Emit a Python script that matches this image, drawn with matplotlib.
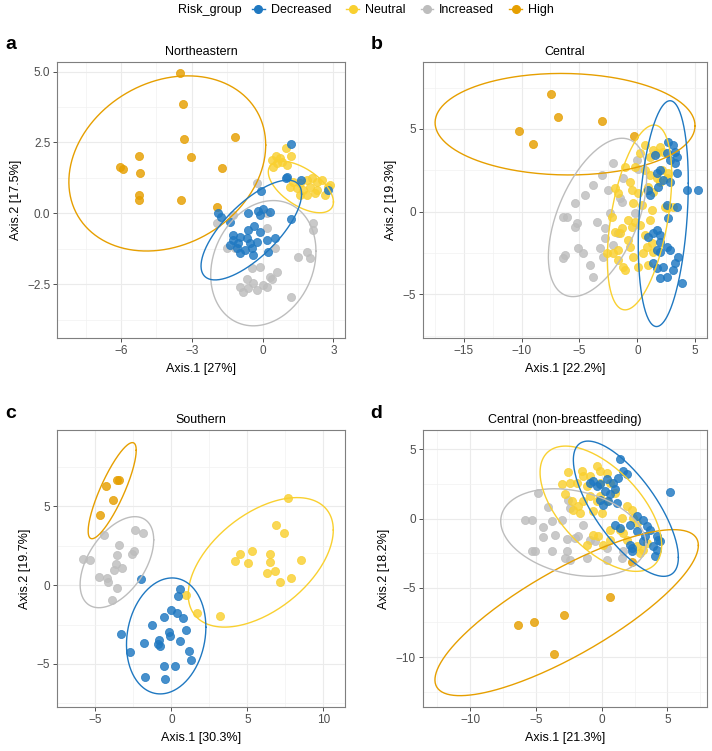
import numpy as np
import matplotlib
matplotlib.use('Agg')
import matplotlib.pyplot as plt
from matplotlib.lines import Line2D

plt.rcParams['font.family'] = ['Liberation Sans', 'DejaVu Sans']

GROUPS = ['Decreased', 'Neutral', 'Increased', 'High']
COLORS = {'Decreased': '#1F78C1', 'Neutral': '#F9D030',
          'Increased': '#BDBDBD', 'High': '#E69F00'}
DRAW_ORDER = ['High', 'Increased', 'Neutral', 'Decreased']

# ---- panel a: Northeastern ----
a_high = [(-3.50, 4.94), (-3.39, 3.84), (-3.33, 2.63), (-3.05, 1.97), (-1.17, 2.68),
          (-1.74, 1.60), (-5.25, 2.02), (-6.05, 1.65), (-5.90, 1.58), (-5.20, 1.41),
          (-5.25, 0.66), (-5.22, 0.47), (-3.46, 0.47), (-1.95, 0.24)]
a_neutral = [(0.97, 2.29), (0.55, 2.02), (0.73, 1.94), (0.38, 1.88), (0.59, 1.76),
             (0.81, 1.82), (0.45, 1.65), (1.19, 2.02), (1.05, 1.70), (1.30, 1.12),
             (1.58, 1.06), (1.86, 1.18), (2.08, 1.23), (2.29, 1.12), (2.50, 1.18),
             (1.44, 0.88), (1.72, 0.82), (2.01, 0.94), (2.29, 0.82), (2.64, 0.65),
             (1.86, 0.65), (2.78, 0.94), (2.85, 1.00), (1.58, 0.65), (1.16, 0.94),
             (2.22, 0.71)]
a_decreased = [(1.19, 2.45), (0.97, 1.23), (1.05, 1.29), (1.62, 1.18), (-0.07, 0.79),
               (2.78, 0.82), (-1.88, 0.00), (-1.78, -0.12), (-1.38, -0.29), (-0.61, 0.00),
               (-0.18, 0.09), (0.03, 0.14), (0.31, 0.06), (-0.11, -0.06), (-0.37, -0.45),
               (1.19, -0.19), (-1.24, -0.76), (-0.96, -0.82), (-0.68, -0.88), (-1.24, -0.94),
               (-1.03, -1.06), (-0.54, -1.06), (-0.25, -1.00), (-1.38, -1.12), (-1.10, -1.23),
               (-0.47, -1.23), (0.17, -0.94), (0.52, -0.88), (-0.96, -1.41), (-0.40, -1.47),
               (0.24, -1.35), (-0.75, -1.29), (-0.61, -0.59), (-0.11, -0.65)]
a_increased = [(-0.25, 1.06), (-1.95, -0.35), (-1.24, -0.06), (-1.17, -1.23), (-1.53, -1.23),
               (0.17, 0.00), (0.17, -0.53), (0.52, -1.23), (2.15, -0.33), (2.15, -0.59),
               (1.51, -1.53), (1.86, -1.35), (2.01, -1.59), (-0.47, -1.94), (-0.11, -1.88),
               (0.59, -2.06), (0.31, -2.23), (-0.68, -2.33), (-0.40, -2.47), (0.03, -2.53),
               (0.17, -2.59), (-0.96, -2.59), (-0.82, -2.76), (-0.25, -2.70), (1.20, -2.94),
               (0.38, -2.33), (-0.61, -2.64)]
# ellipse: centre x, centre y, half-range x, half-range y, correlation
a_ellipses = {'High': (-4.04, 1.76, 4.17, 3.09, 0.21),
              'Neutral': (1.62, 0.93, 1.38, 0.91, -0.58),
              'Decreased': (-0.48, -0.59, 2.13, 1.76, 0.72),
              'Increased': (0.03, -1.76, 2.23, 2.21, 0.19)}

# ---- panel b: Central ----
b_high = [(-7.48, 7.14), (-6.85, 5.75), (-3.08, 5.46), (-10.22, 4.88), (-9.04, 4.07),
          (-0.32, 4.58)]
b_neutral = [(0.66, 4.03), (1.38, 3.73), (1.96, 3.93), (1.67, 3.53), (2.24, 3.63),
             (0.23, 3.53), (1.09, 3.33), (-1.06, 2.72), (-0.20, 2.72), (0.66, 2.52),
             (1.09, 2.22), (1.67, 2.02), (2.10, 2.52), (2.53, 2.02), (-1.93, 1.41),
             (-0.63, 1.81), (-0.49, 1.31), (0.09, 1.11), (0.81, 1.31), (1.38, 1.21),
             (1.96, 1.81), (0.37, 0.40), (1.24, 0.10), (2.53, 0.20), (3.11, 0.30),
             (-0.35, 0.50), (-2.22, -0.30), (-0.78, -0.50), (-0.49, -0.91), (-0.20, -0.60),
             (-1.35, -1.01), (0.23, -0.81), (-1.93, -1.21), (-1.50, -1.31), (-0.78, -1.71),
             (0.66, -1.41), (1.24, -1.92), (-0.63, -2.12), (0.81, -2.12), (1.38, -2.42),
             (-2.07, -2.52), (-1.64, -2.92), (-1.21, -3.33), (-0.35, -2.72), (0.09, -3.33),
             (0.95, -3.23), (-1.64, -2.32), (2.39, 0.30), (2.68, 2.32), (1.09, -0.50),
             (0.52, -2.52), (-1.06, -3.53), (-2.65, -2.52), (0.95, 1.51), (-1.64, 1.11)]
b_decreased = [(2.68, 4.23), (3.11, 4.03), (3.25, 3.63), (2.53, 3.53), (3.40, 3.33),
               (2.82, 3.13), (3.25, 2.92), (1.96, 2.52), (1.67, 2.32), (3.40, 2.32),
               (2.24, 1.92), (2.82, 1.81), (1.81, 1.51), (0.95, 1.31), (4.26, 1.31),
               (5.27, 1.31), (1.09, 1.01), (2.53, 0.40), (3.40, 0.30), (2.68, -0.40),
               (1.67, -1.11), (1.38, -1.31), (1.96, -1.41), (2.53, -2.12), (2.82, -2.32),
               (3.54, -2.72), (1.96, -2.42), (1.67, -2.32), (3.25, -3.13), (2.24, -3.33),
               (3.11, -3.53), (1.96, -4.03), (2.53, -3.93), (3.83, -4.33), (0.95, -1.51),
               (1.96, -1.81), (1.38, -3.13), (1.67, -3.43), (1.53, 3.43)]
b_increased = [(-2.07, 2.92), (-0.06, 3.13), (0.09, 2.56), (-3.08, 2.22), (-1.21, 2.02),
               (-3.80, 1.61), (-4.52, 1.01), (-2.50, 1.31), (-1.50, 0.81), (-5.38, 0.50),
               (-6.39, -0.30), (-6.10, -0.30), (-5.24, -0.71), (-5.38, -0.91), (-3.51, -0.60),
               (-2.36, -0.10), (-2.79, -1.01), (-2.79, -1.61), (-3.22, -2.22), (-5.09, -2.22),
               (-4.66, -2.52), (-6.24, -2.62), (-6.39, -2.82), (-2.94, -2.72), (-4.09, -3.23),
               (-3.80, -3.93), (-2.07, -2.02), (-0.20, -0.10), (-1.64, -1.31), (-1.35, 0.60)]
b_ellipses = {'High': (-6.24, 5.29, 11.22, 3.07, -0.03),
              'Increased': (-3.44, -0.35, 4.24, 4.79, 0.50),
              'Neutral': (0.19, -0.35, 2.78, 5.59, 0.45),
              'Decreased': (2.24, -0.12, 2.16, 6.83, 0.27)}

# ---- panel c: Southern ----
c_high = [(-3.58, 6.65), (-3.45, 6.70), (-4.31, 6.32), (-3.83, 5.39), (-4.71, 4.46)]
c_increased = [(-4.40, 3.20), (-2.42, 3.49), (-1.89, 3.31), (-3.45, 2.53), (-5.83, 1.68),
               (-5.34, 1.60), (-3.58, 1.94), (-2.57, 1.98), (-2.46, 2.15), (-3.66, 1.35),
               (-3.24, 1.09), (-3.79, 0.99), (-4.78, 0.55), (-4.25, 0.46), (-4.14, 0.19),
               (-3.58, -0.17), (-3.93, -0.91)]
c_decreased = [(-1.98, 0.42), (0.55, -0.21), (0.42, -0.69), (-0.04, -1.60), (0.34, -1.75),
               (-0.46, -2.02), (0.76, -2.11), (-1.26, -2.53), (0.95, -2.84), (-3.30, -3.12),
               (-0.15, -2.95), (-0.08, -3.22), (0.59, -3.54), (-0.78, -3.49), (-0.88, -3.75),
               (-0.72, -3.85), (-1.83, -3.64), (1.18, -4.17), (-2.74, -4.27), (1.28, -4.74),
               (-0.46, -5.12), (0.27, -5.12), (-1.73, -5.81), (-0.42, -5.98)]
c_neutral = [(7.66, 5.52), (6.90, 3.83), (7.38, 3.31), (4.17, 1.52), (4.54, 1.98),
             (5.01, 1.43), (5.32, 2.15), (6.52, 1.98), (6.48, 1.47), (6.27, 0.78),
             (6.80, 0.93), (8.54, 1.60), (7.87, 0.46), (7.17, 0.21), (0.97, -0.63),
             (1.70, -1.75), (3.22, -1.96)]
c_ellipses = {'High': (-3.89, 6.00, 1.58, 3.05, 0.84),
              'Increased': (-3.58, 1.46, 2.42, 2.89, 0.49),
              'Decreased': (-0.34, -3.22, 2.61, 3.68, 0.15),
              'Neutral': (5.88, 1.45, 4.77, 4.11, 0.50)}

# ---- panel d: Central (non-breastfeeding) ----
d_high = [(0.66, -5.69), (-2.86, -6.94), (-5.12, -7.48), (-6.33, -7.67), (-3.60, -9.77),
          (2.28, -3.10)]
d_increased = [(-4.81, 1.86), (-4.05, 0.84), (-5.83, -0.07), (-5.32, -0.07), (-4.43, -0.60),
               (-3.80, -0.19), (-3.04, -0.07), (-2.53, 1.33), (-2.41, 0.77), (-3.55, -1.16),
               (-4.43, -1.33), (-2.66, -1.47), (-2.03, -1.40), (-1.77, -1.28), (-5.32, -2.36),
               (-3.80, -2.36), (-2.66, -2.36), (-1.39, -0.43), (-1.14, -2.85), (-2.41, -2.97),
               (-2.79, -2.85), (0.38, -2.97), (-0.89, -1.52), (0.38, -2.12), (1.52, -2.85),
               (1.65, -2.36), (-5.07, -2.36), (-0.51, -1.64)]
d_neutral = [(-2.53, 3.35), (-3.04, 2.46), (-2.41, 2.58), (-1.90, 2.58), (-1.39, 3.06),
             (-1.52, 3.42), (-0.89, 3.06), (-0.38, 3.79), (-0.13, 3.42), (0.38, 3.30),
             (-0.13, 2.58), (-1.14, 2.34), (-2.79, 1.74), (-2.28, 1.25), (-1.77, 0.89),
             (-1.39, 1.25), (-0.89, 1.62), (-0.38, 1.25), (-0.63, 0.53), (0.00, 0.41),
             (-1.65, 0.41), (-2.15, 0.65), (0.63, 2.58), (1.52, 0.05), (1.90, 0.89),
             (2.28, 0.65), (2.41, 0.05), (1.39, -0.80), (1.90, -1.52), (1.65, -1.04),
             (-0.25, -1.28), (0.13, -1.88), (-1.14, -1.88), (2.66, -2.00), (2.91, -2.48),
             (3.17, -2.24), (3.42, -1.76), (0.63, -0.80), (2.66, -0.31), (-0.13, 1.62),
             (0.38, 1.25), (1.01, 1.86), (-0.63, -1.16), (0.63, -1.52)]
d_decreased = [(1.39, 4.32), (5.19, 1.90), (1.65, 3.42), (1.90, 3.18), (1.27, 2.94),
               (0.89, 2.58), (0.38, 2.82), (-0.13, 2.46), (-0.63, 2.70), (-0.38, 2.34),
               (-0.89, 2.58), (0.25, 1.98), (0.63, 1.74), (1.01, 2.10), (0.51, 1.25),
               (0.13, 1.01), (-0.13, 1.37), (1.14, 1.13), (1.01, -0.43), (1.39, -0.68),
               (2.15, -0.43), (2.66, 0.17), (3.17, -0.07), (3.42, -0.55), (3.67, -0.80),
               (2.66, -0.92), (3.29, -1.28), (4.18, -1.28), (4.43, -1.64), (3.93, -2.00),
               (4.18, -2.24), (3.17, -1.64), (2.15, -1.88), (2.28, -2.12), (4.05, -2.72),
               (4.31, -1.52), (2.28, -2.36)]
d_ellipses = {'High': (-2.66, -6.79, 10.01, 5.99, 0.81),
              'Increased': (-2.15, -1.01, 5.52, 3.16, -0.26),
              'Neutral': (-0.06, 0.71, 4.62, 4.52, -0.58),
              'Decreased': (1.84, 0.71, 3.99, 4.88, -0.72)}

# axis limits, ticks and labels per panel
a_xlim, a_ylim = (-8.7, 3.49), (-4.41, 5.35)
b_xlim, b_ylim = (-18.53, 6.04), (-7.66, 9.07)
c_xlim, c_ylim = (-6.73, 11.42), (-7.75, 9.85)
d_xlim, d_ylim = (-13.6, 8.03), (-13.62, 6.39)
a_xticks, a_yticks = [-6, -3, 0, 3], [-2.5, 0.0, 2.5, 5.0]
b_xticks, b_yticks = [-15, -10, -5, 0, 5], [-5, 0, 5]
c_xticks, c_yticks = [-5, 0, 5, 10], [-5, 0, 5]
d_xticks, d_yticks = [-10, -5, 0, 5], [-10, -5, 0, 5]


def fmt(v, decimals):
    return f"{v:.{decimals}f}".replace('-', '\u2212')


def ellipse_xy(cx, cy, sx, sy, r, n=240):
    t = np.linspace(0, 2 * np.pi, n)
    x = cx + sx * np.cos(t)
    y = cy + sy * (r * np.cos(t) + np.sqrt(1 - r ** 2) * np.sin(t))
    return x, y


def draw_panel(fig, rect, pts, ellipses, xlim, ylim, xticks, yticks, ydec,
               title, letter, xlabel, ylabel):
    W, H = 712, 751
    l, r, t, b = rect
    ax = fig.add_axes([l / W, 1 - b / H, (r - l) / W, (b - t) / H])
    for g in DRAW_ORDER:
        if g not in pts:
            continue
        xy = np.array(pts[g])
        ax.scatter(xy[:, 0], xy[:, 1], s=34, color=COLORS[g], alpha=0.82,
                   edgecolors=COLORS[g], linewidths=0.6, zorder=3)
    for g in DRAW_ORDER:
        ex, ey = ellipse_xy(*ellipses[g])
        ax.plot(ex, ey, color=COLORS[g], lw=1.0, zorder=4)
    ax.set_xlim(xlim)
    ax.set_ylim(ylim)
    ax.set_xticks(xticks, labels=[fmt(v, 0) for v in xticks])
    ax.set_yticks(yticks, labels=[fmt(v, ydec) for v in yticks])
    xs = np.diff(xticks)[0] / 2
    ys = np.diff(yticks)[0] / 2
    ax.set_xticks(np.arange(xticks[0] - xs, xlim[1], 2 * xs), minor=True)
    ax.set_yticks(np.arange(yticks[0] - ys, ylim[1], 2 * ys), minor=True)
    ax.grid(which='major', color='#EBEBEB', lw=0.8, zorder=0)
    ax.grid(which='minor', color='#F2F2F2', lw=0.5, zorder=0)
    ax.set_axisbelow(True)
    ax.tick_params(which='major', length=3, width=0.6, color='#333333',
                   labelsize=8.5, labelcolor='#4D4D4D', pad=2)
    ax.tick_params(which='minor', length=0)
    for sp in ax.spines.values():
        sp.set_color('#7F7F7F')
        sp.set_linewidth(0.8)
    ax.set_title(title, fontsize=9, pad=5)
    ax.set_xlabel(xlabel, fontsize=9, labelpad=4)
    ax.set_ylabel(ylabel, fontsize=9, labelpad=4)
    fig.text((l - 52) / W, 1 - (t - 17) / H, letter, fontsize=14,
             fontweight='bold', ha='left', va='center')
    return ax


if __name__ == '__main__':
    fig = plt.figure(figsize=(7.12, 7.51), dpi=100)

    draw_panel(fig, (57.3, 345, 61.7, 338.3),
               {'Decreased': a_decreased, 'Neutral': a_neutral,
                'Increased': a_increased, 'High': a_high},
               a_ellipses, a_xlim, a_ylim, a_xticks, a_yticks, 1,
               'Northeastern', 'a', 'Axis.1 [27%]', 'Axis.2 [17.5%]')
    draw_panel(fig, (422.7, 707.3, 61.7, 338.3),
               {'Decreased': b_decreased, 'Neutral': b_neutral,
                'Increased': b_increased, 'High': b_high},
               b_ellipses, b_xlim, b_ylim, b_xticks, b_yticks, 0,
               'Central', 'b', 'Axis.1 [22.2%]', 'Axis.2 [19.3%]')
    draw_panel(fig, (57.3, 345, 430, 707.3),
               {'Decreased': c_decreased, 'Neutral': c_neutral,
                'Increased': c_increased, 'High': c_high},
               c_ellipses, c_xlim, c_ylim, c_xticks, c_yticks, 0,
               'Southern', 'c', 'Axis.1 [30.3%]', 'Axis.2 [19.7%]')
    draw_panel(fig, (422.7, 707.3, 430, 707.3),
               {'Decreased': d_decreased, 'Neutral': d_neutral,
                'Increased': d_increased, 'High': d_high},
               d_ellipses, d_xlim, d_ylim, d_xticks, d_yticks, 0,
               'Central (non-breastfeeding)', 'd', 'Axis.1 [21.3%]', 'Axis.2 [18.2%]')

    # legend across the top, title on the left like ggplot
    handles = [Line2D([], [], color=COLORS[g], marker='o', markersize=5.5, lw=1.0)
               for g in GROUPS]
    fig.text(178 / 712, 1 - 10 / 751, 'Risk_group', fontsize=9, ha='left', va='center')
    fig.legend(handles, GROUPS, loc='center left', bbox_to_anchor=(252 / 712, 1 - 10 / 751),
               ncol=4, frameon=False, fontsize=9, handlelength=1.0, handletextpad=0.5,
               columnspacing=1.2, borderpad=0, borderaxespad=0)

    fig.savefig('out.png', dpi=100)
    plt.close(fig)
